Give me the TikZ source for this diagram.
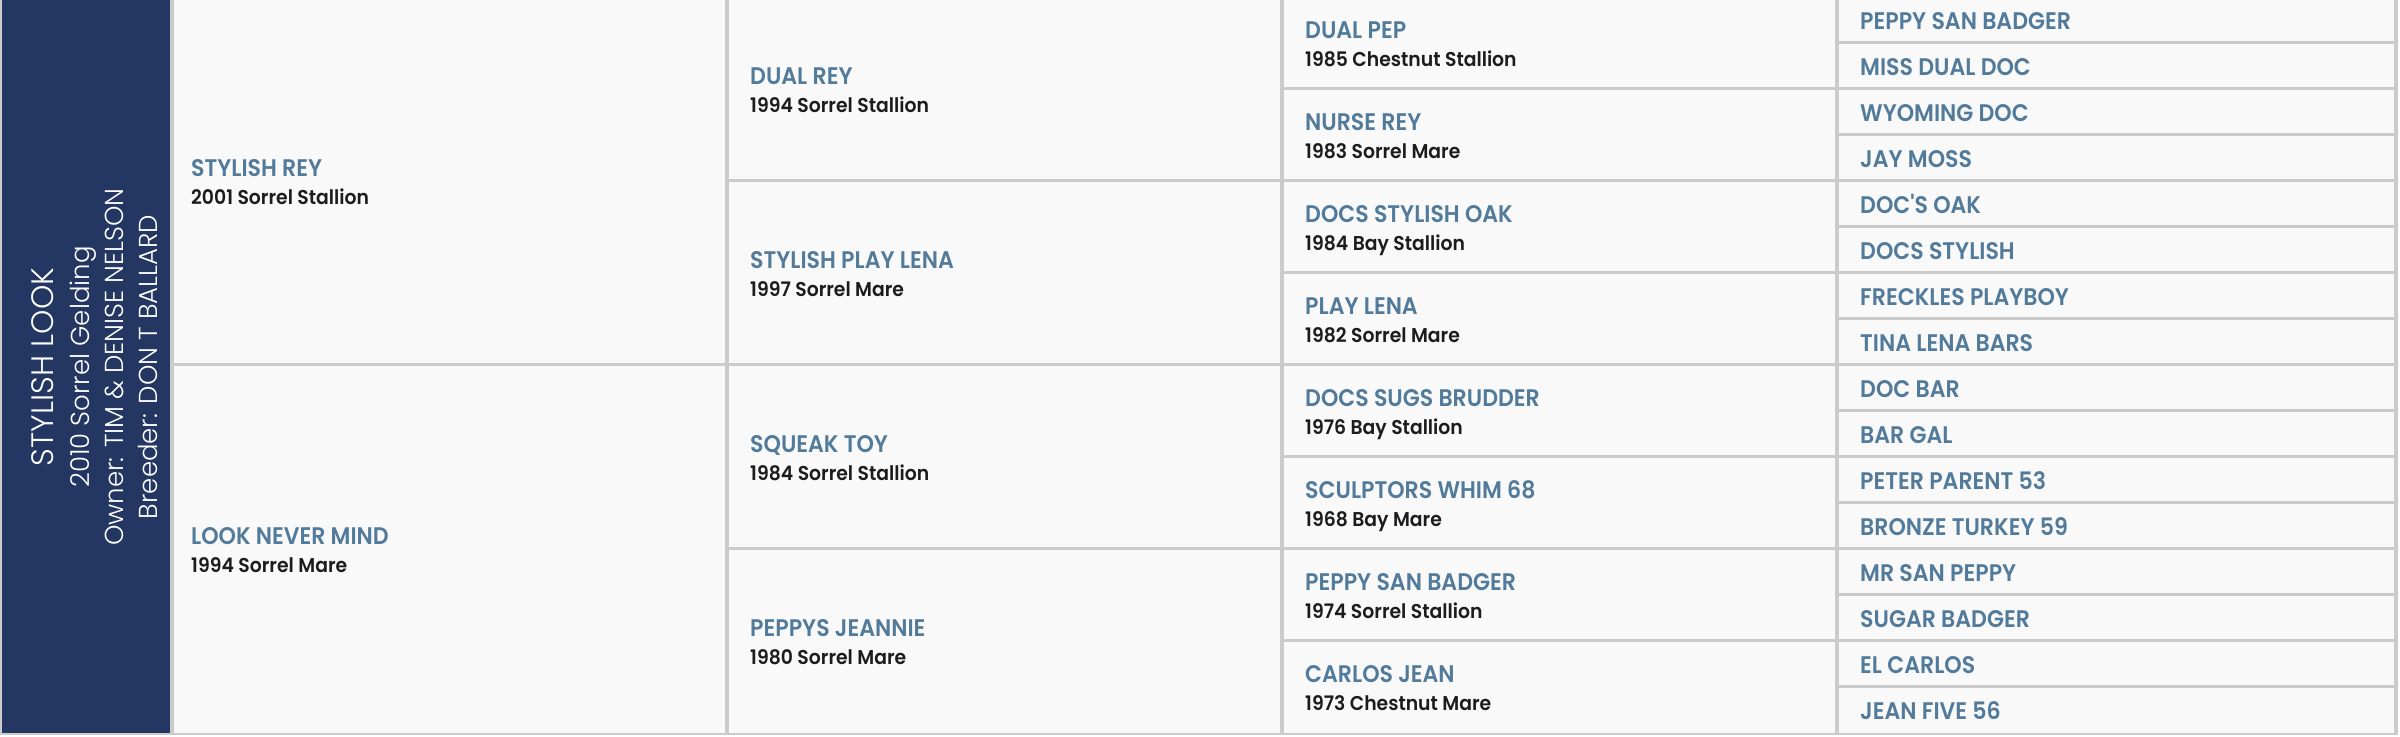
\documentclass[tikz,border=0pt]{standalone}
\usepackage{fontspec}
\setmainfont{Poppins}
\newfontfamily\namefont{Poppins SemiBold}[FakeStretch=0.92]
\newfontfamily\yearfont{Poppins SemiBold}[FakeStretch=0.94]
\newfontfamily\lightfont{Poppins Light}
\usetikzlibrary{positioning}
\definecolor{navy}{HTML}{233762}
\definecolor{steel}{HTML}{527B9B}
\definecolor{gridgrey}{HTML}{CBCBCB}
\definecolor{cellbg}{HTML}{F9F9F9}
\definecolor{ink}{HTML}{1C1C1C}

\begin{document}
\begin{tikzpicture}[x=1pt,y=-1pt,
  horse/.style={anchor=base west,inner sep=0pt,text=steel,font=\namefont\fontsize{24}{24}\selectfont},
  born/.style={anchor=base west,inner sep=0pt,text=ink,font=\yearfont\fontsize{20}{20}\selectfont},
  side/.style={anchor=base,inner sep=0pt,rotate=90,text=white,font=\lightfont\fontsize{26}{26}\selectfont}]
\useasboundingbox (0,0) rectangle (2400,736);
\fill[white] (0,0) rectangle (2400,736);
\fill[cellbg] (172,0) rectangle (2396,733);
\fill[navy] (2,0) rectangle (170,733);

% grid lines
\foreach \xl/\xr/\cnt in {172/727/2, 727/1282/4, 1282/1837/8, 1837/2396/16}
  \foreach \k in {1,...,\numexpr\cnt-1\relax}
    \draw[gridgrey, line width=3.5pt] (\xl,\k*736/\cnt-3.5) -- (2396,\k*736/\cnt-3.5);
\foreach \x in {172,727,1282,1837,2396}
  \draw[gridgrey, line width=3.5pt] (\x,0) -- (\x,735);
\draw[gridgrey, line width=2pt] (1,0) -- (1,734) -- (2398,734);

% subject
\node[side, font=\lightfont\fontsize{31}{31}\selectfont] (subject) at (53,367) {STYLISH LOOK};
\node[side] (foaled) at (89,367) {2010 Sorrel Gelding};
\node[side] (owner) at (123,367) {Owner: TIM \& DENISE NELSON};
\node[side] (breeder) at (157,367) {Breeder: DON T BALLARD};

% parents
\foreach \nm/\yr [count=\i] in {STYLISH REY/2001 Sorrel Stallion, LOOK NEVER MIND/1994 Sorrel Mare} {
  \node[horse] (p\i) at (191,{(\i-0.5)*368-3.5-4.5}) {\nm};
  \node[born] (p\i-y) at (191,{(\i-0.5)*368-3.5+23.5}) {\yr};
}
% grandparents
\foreach \nm/\yr [count=\i] in {DUAL REY/1994 Sorrel Stallion, STYLISH PLAY LENA/1997 Sorrel Mare,
    SQUEAK TOY/1984 Sorrel Stallion, PEPPYS JEANNIE/1980 Sorrel Mare} {
  \node[horse] (gp\i) at (750,{(\i-0.5)*184-3.5-4.5}) {\nm};
  \node[born] (gp\i-y) at (750,{(\i-0.5)*184-3.5+23.5}) {\yr};
}
% great-grandparents
\foreach \nm/\yr [count=\i] in {DUAL PEP/1985 Chestnut Stallion, NURSE REY/1983 Sorrel Mare,
    DOCS STYLISH OAK/1984 Bay Stallion, PLAY LENA/1982 Sorrel Mare,
    DOCS SUGS BRUDDER/1976 Bay Stallion, SCULPTORS WHIM 68/1968 Bay Mare,
    PEPPY SAN BADGER/1974 Sorrel Stallion, CARLOS JEAN/1973 Chestnut Mare} {
  \node[horse] (ggp\i) at (1305,{(\i-0.5)*92-3.5-4.5}) {\nm};
  \node[born] (ggp\i-y) at (1305,{(\i-0.5)*92-3.5+23.5}) {\yr};
}
% great-great-grandparents
\foreach \nm [count=\i] in {PEPPY SAN BADGER, MISS DUAL DOC, WYOMING DOC, JAY MOSS,
    DOC'S OAK, DOCS STYLISH, FRECKLES PLAYBOY, TINA LENA BARS,
    DOC BAR, BAR GAL, PETER PARENT 53, BRONZE TURKEY 59,
    MR SAN PEPPY, SUGAR BADGER, EL CARLOS, JEAN FIVE 56}
  \node[horse] (gggp\i) at (1860,{(\i-0.5)*46-3.5+9.5}) {\nm};
\end{tikzpicture}
\end{document}
